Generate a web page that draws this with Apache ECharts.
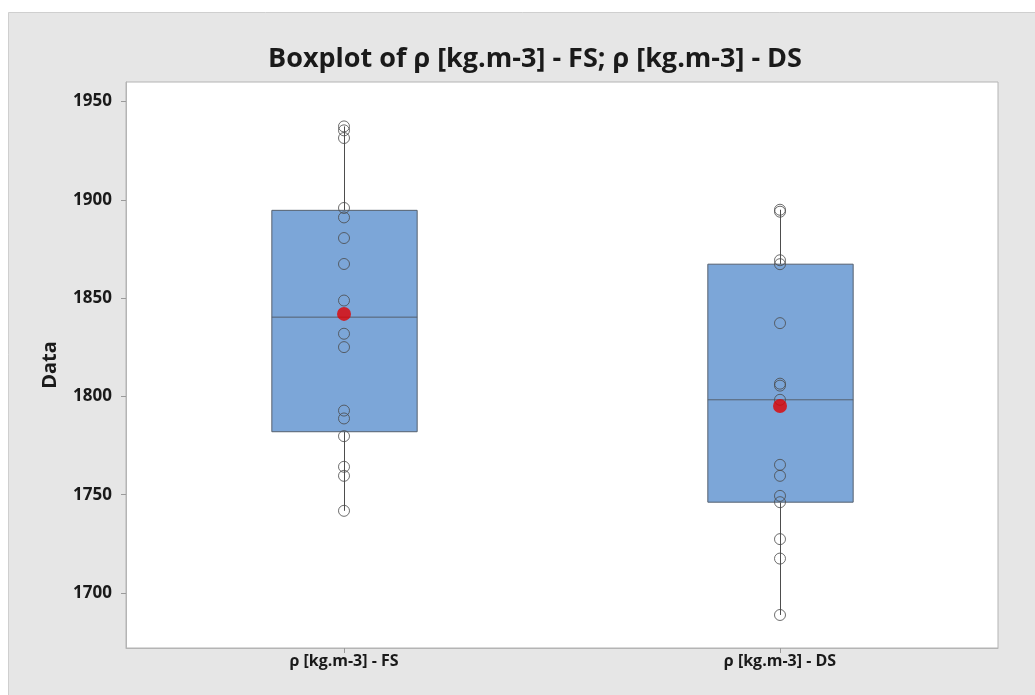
<!DOCTYPE html>
<html>
<head>
<meta charset="utf-8">
<script src="https://cdn.jsdelivr.net/npm/echarts@6/dist/echarts.min.js"></script>
<style>
html,body{margin:0;padding:0;background:#ffffff;}
#chart{width:1035px;height:695px;}
</style>
</head>
<body>
<div id="chart"></div>
<script>
// ---- data ----
const categories = ['ρ [kg.m-3] - FS', 'ρ [kg.m-3] - DS'];
const fsValues = [1937.4, 1935.4, 1931.5, 1895.9, 1891.1, 1880.6, 1867.4, 1848.8,
                  1831.9, 1825.1, 1792.8, 1788.8, 1779.8, 1764.2, 1759.6, 1741.8];
const dsValues = [1895.0, 1894.0, 1869.3, 1867.3, 1837.3, 1806.5, 1805.5, 1798.3,
                  1765.2, 1759.6, 1749.4, 1746.2, 1727.4, 1717.5, 1688.8];
const yTickLabels = [1700, 1750, 1800, 1850, 1900, 1950];
const titleText = 'Boxplot of ρ [kg.m-3] - FS; ρ [kg.m-3] - DS';
const yAxisName = 'Data';

// ---- box statistics (Minitab-style quartiles) ----
function quant(sorted, p) {
  const n = sorted.length;
  let pos = p * (n + 1);
  if (pos < 1) pos = 1;
  if (pos > n) pos = n;
  const lo = Math.floor(pos), fr = pos - lo;
  const a = sorted[lo - 1], b = sorted[Math.min(lo, n - 1)];
  return a + fr * (b - a);
}
function stats(vals) {
  const s = vals.slice().sort((a, b) => a - b);
  const q1 = quant(s, 0.25), med = quant(s, 0.5), q3 = quant(s, 0.75);
  const iqr = q3 - q1;
  const lo = s.find(v => v >= q1 - 1.5 * iqr);
  const hi = s.slice().reverse().find(v => v <= q3 + 1.5 * iqr);
  const mean = s.reduce((a, b) => a + b, 0) / s.length;
  return {lo, q1, med, q3, hi, mean};
}
const allSets = [fsValues, dsValues];
const boxData = allSets.map((v, i) => {
  const st = stats(v);
  return [i, st.lo, st.q1, st.med, st.q3, st.hi];
});
const meanData = allSets.map((v, i) => [i, stats(v).mean]);
const pointData = [];
allSets.forEach((v, i) => v.forEach(x => pointData.push([i, x])));

const FONT = '"Open Sans", "Noto Sans", sans-serif';
const chart = echarts.init(document.getElementById('chart'), null, {renderer: 'canvas'});
chart.setOption({
  animation: false,
  backgroundColor: '#ffffff',
  graphic: [{
    type: 'rect', z: -10, silent: true,
    shape: {x: 8.5, y: 12.5, width: 1040, height: 700},
    style: {fill: '#e6e6e6', stroke: '#cfcfcf', lineWidth: 1}
  }],
  title: {
    text: titleText,
    left: 530, top: 41, textAlign: 'center',
    textStyle: {fontFamily: FONT, fontWeight: 'bold', fontSize: 27, color: '#1a1a1a'}
  },
  grid: {
    left: 126, right: 37, top: 82, bottom: 47,
    show: true, backgroundColor: '#ffffff', borderColor: '#b4b4b4', borderWidth: 1
  },
  xAxis: {
    type: 'category',
    data: categories,
    boundaryGap: true,
    axisLine: {show: true, lineStyle: {color: '#b4b4b4'}},
    axisTick: {show: true, alignWithLabel: true, length: 5, lineStyle: {color: '#9a9a9a'}},
    axisLabel: {fontFamily: FONT, fontWeight: 'bold', fontSize: 16, color: '#1a1a1a', margin: 5},
    splitLine: {show: false}
  },
  yAxis: {
    type: 'value',
    min: 1672, max: 1960,
    name: yAxisName,
    nameLocation: 'middle',
    nameGap: 66,
    nameRotate: 90,
    nameTextStyle: {fontFamily: FONT, fontWeight: 'bold', fontSize: 20, color: '#1a1a1a'},
    axisLine: {show: true, lineStyle: {color: '#b4b4b4'}},
    axisTick: {show: true, length: 5, customValues: yTickLabels, lineStyle: {color: '#9a9a9a'}},
    axisLabel: {
      customValues: yTickLabels,
      formatter: function (v) { return String(v); },
      fontFamily: FONT, fontWeight: 'bold', fontSize: 17, color: '#1a1a1a', margin: 14
    },
    splitLine: {show: false}
  },
  series: [
    {
      type: 'custom',
      z: 2,
      data: boxData,
      renderItem: function (params, api) {
        const x = api.value(0);
        const pLo = api.coord([x, api.value(1)]);
        const pQ1 = api.coord([x, api.value(2)]);
        const pMed = api.coord([x, api.value(3)]);
        const pQ3 = api.coord([x, api.value(4)]);
        const pHi = api.coord([x, api.value(5)]);
        const band = api.size([1, 0])[0];
        const hw = band / 6;
        const cx = Math.round(pMed[0]) + 0.5;
        const lineStyle = {stroke: '#4d4d4d', lineWidth: 1};
        return {
          type: 'group',
          children: [
            {type: 'line', shape: {x1: cx, y1: pQ3[1], x2: cx, y2: pHi[1]}, style: lineStyle},
            {type: 'line', shape: {x1: cx, y1: pQ1[1], x2: cx, y2: pLo[1]}, style: lineStyle},
            {type: 'rect', shape: {x: cx - hw, y: pQ3[1], width: 2 * hw, height: pQ1[1] - pQ3[1]},
             style: {fill: '#7ca6d8', stroke: '#55606e', lineWidth: 1}},
            {type: 'line', shape: {x1: cx - hw, y1: pMed[1], x2: cx + hw, y2: pMed[1]}, style: {stroke: '#55606e', lineWidth: 1}}
          ]
        };
      }
    },
    {
      type: 'scatter',
      z: 3,
      data: pointData,
      symbol: 'circle',
      symbolSize: 11,
      itemStyle: {color: 'rgba(0,0,0,0)', borderColor: '#4a4a4a', borderWidth: 1}
    },
    {
      type: 'scatter',
      z: 4,
      data: meanData,
      symbol: 'circle',
      symbolSize: 14,
      itemStyle: {color: '#e00000', borderWidth: 0}
    }
  ]
});
</script>
</body>
</html>
